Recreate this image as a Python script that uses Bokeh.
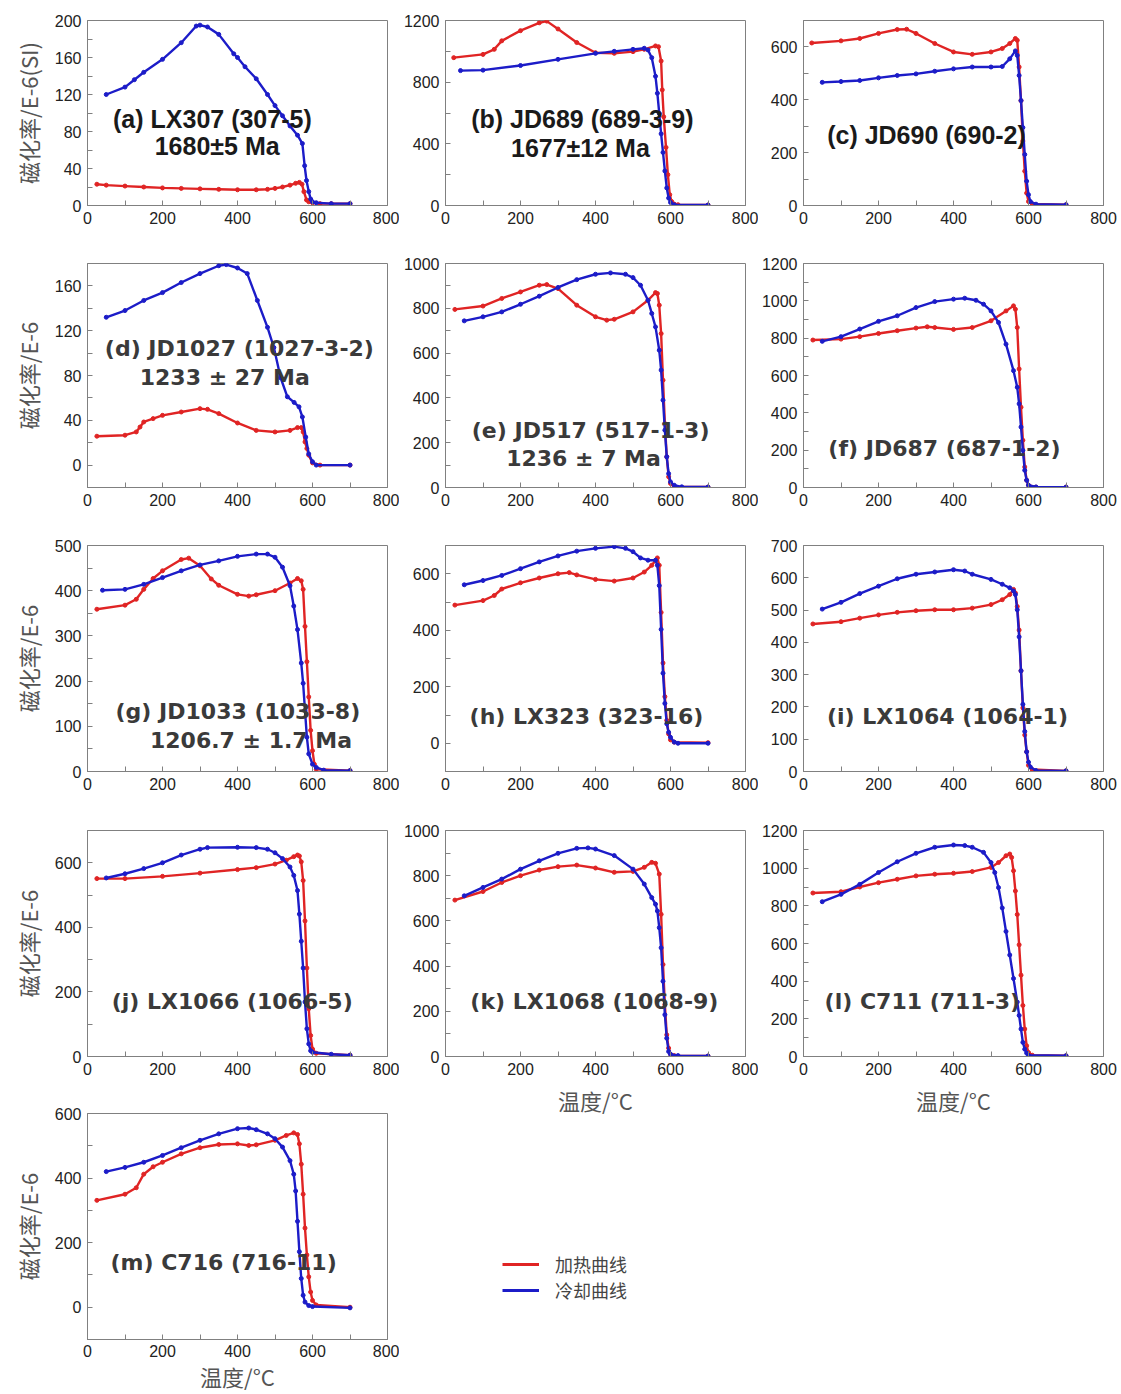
from bokeh.plotting import figure
from bokeh.layouts import row, column
from bokeh.models import FixedTicker, Range1d, Label, Legend, LegendItem
from bokeh.embed import file_html
from bokeh.resources import INLINE

# ---------------- data (temperature in °C, susceptibility in 1E-6 SI) ----------------
a_heat_t = [25, 50, 100, 150, 200, 250, 300, 350, 400, 450, 480, 500, 520, 540, 555, 565, 572, 577, 584, 590, 600, 620, 650, 700]
a_heat_v = [23, 22, 21, 20, 19, 18.5, 18, 17.5, 17, 17, 17.5, 18.5, 20, 22, 24, 25, 23, 15, 6, 4, 3, 2, 2, 2]
a_cool_t = [50, 100, 125, 150, 200, 250, 290, 300, 320, 350, 390, 400, 420, 450, 480, 500, 520, 540, 560, 573, 579, 584, 590, 595, 600, 610, 650, 700]
a_cool_v = [120, 128, 136, 144, 158, 176, 194, 195, 193, 185, 164, 160, 150, 137, 120, 108, 97, 86, 76, 67, 43, 27, 15, 7, 4, 3, 2, 2]

b_heat_t = [22, 100, 130, 150, 200, 250, 270, 300, 350, 400, 450, 500, 530, 560, 568, 575, 578, 582, 588, 593, 598, 603, 610, 620, 700]
b_heat_v = [959, 980, 1013, 1068, 1134, 1185, 1196, 1145, 1057, 991, 987, 998, 1013, 1035, 1030, 937, 750, 575, 377, 200, 70, 26, 9, 5, 3]
b_cool_t = [40, 100, 200, 300, 400, 450, 500, 530, 540, 550, 560, 565, 570, 575, 580, 585, 590, 595, 600, 610, 700]
b_cool_v = [875, 878, 908, 948, 987, 1000, 1013, 1020, 1009, 959, 838, 728, 597, 465, 344, 224, 114, 48, 20, 5, 3]

c_heat_t = [22, 100, 150, 200, 250, 275, 300, 350, 400, 450, 500, 530, 550, 565, 570, 575, 580, 585, 590, 595, 600, 610, 700]
c_heat_v = [615, 623, 632, 651, 666, 667, 651, 613, 581, 572, 581, 594, 613, 632, 625, 524, 397, 244, 130, 47, 15, 6, 3]
c_cool_t = [50, 100, 150, 200, 250, 300, 350, 400, 450, 500, 530, 550, 565, 570, 575, 580, 585, 590, 595, 600, 605, 620, 700]
c_cool_v = [466, 469, 473, 483, 492, 498, 508, 517, 524, 524, 526, 555, 585, 568, 492, 397, 295, 193, 92, 41, 15, 5, 3]

d_heat_t = [25, 100, 130, 140, 150, 175, 200, 250, 300, 320, 350, 400, 450, 500, 540, 560, 570, 575, 580, 585, 590, 600, 620, 700]
d_heat_v = [25.8, 26.7, 29.6, 34, 38.5, 41.5, 44.4, 47.4, 50.4, 49.8, 46, 37.6, 31, 29.6, 31, 33.5, 33.5, 29.6, 20.7, 14.8, 8.9, 2, 0, 0]
d_cool_t = [50, 100, 150, 200, 250, 300, 350, 370, 400, 426, 453, 480, 497, 515, 533, 551, 564, 573, 582, 590, 600, 610, 700]
d_cool_v = [132, 138, 147, 154, 163, 171, 178, 179, 176, 171, 147, 123, 105, 78, 61, 56, 52, 43, 25, 10, 3, 0, 0]

e_heat_t = [25, 100, 150, 200, 250, 270, 300, 350, 400, 430, 450, 500, 540, 560, 565, 570, 575, 580, 585, 590, 595, 600, 610, 700]
e_heat_v = [795, 810, 844, 873, 903, 906, 888, 814, 762, 747, 751, 784, 836, 870, 866, 814, 687, 479, 286, 137, 48, 18, 3, 2]
e_cool_t = [50, 100, 150, 200, 250, 300, 350, 400, 440, 480, 500, 520, 540, 550, 560, 570, 575, 580, 585, 590, 595, 600, 610, 630, 700]
e_cool_v = [744, 762, 784, 818, 854, 893, 928, 952, 958, 952, 937, 903, 836, 777, 717, 613, 524, 390, 256, 137, 62, 25, 10, 3, 2]

f_heat_t = [25, 100, 150, 200, 250, 300, 330, 350, 400, 450, 500, 540, 560, 565, 570, 575, 580, 585, 590, 595, 600, 620, 700]
f_heat_v = [790, 795, 808, 825, 840, 854, 861, 857, 847, 857, 893, 946, 973, 955, 857, 635, 430, 253, 110, 39, 12, 2, 2]
f_cool_t = [50, 100, 150, 200, 250, 300, 350, 400, 430, 460, 480, 500, 520, 540, 560, 570, 575, 580, 585, 590, 595, 600, 620, 700]
f_cool_v = [783, 808, 849, 890, 920, 964, 996, 1009, 1014, 1003, 982, 946, 884, 768, 626, 537, 448, 324, 199, 92, 39, 12, 3, 2]

g_heat_t = [25, 100, 130, 150, 175, 200, 250, 270, 300, 330, 350, 400, 430, 450, 500, 540, 560, 570, 575, 580, 585, 590, 595, 600, 605, 610, 700]
g_heat_v = [359, 368, 381, 403, 427, 444, 469, 472, 455, 426, 412, 392, 388, 391, 400, 417, 427, 422, 403, 321, 243, 165, 91, 46, 16, 5, 2]
g_cool_t = [40, 100, 150, 200, 250, 300, 350, 400, 450, 480, 500, 520, 540, 550, 560, 570, 575, 580, 585, 590, 600, 610, 630, 700]
g_cool_v = [401, 403, 414, 429, 444, 457, 466, 476, 481, 481, 474, 452, 411, 366, 314, 240, 195, 135, 76, 39, 16, 9, 3, 2]

h_heat_t = [25, 100, 130, 150, 200, 250, 300, 330, 350, 400, 450, 500, 530, 550, 565, 570, 575, 580, 585, 590, 595, 600, 610, 700]
h_heat_v = [489, 505, 523, 546, 568, 585, 600, 604, 596, 580, 574, 585, 606, 630, 656, 630, 463, 284, 165, 81, 33, 12, 4, 2]
h_cool_t = [50, 100, 150, 200, 250, 300, 350, 400, 450, 480, 500, 520, 540, 560, 565, 570, 575, 580, 585, 590, 595, 600, 610, 620, 700]
h_cool_v = [561, 576, 594, 618, 642, 663, 680, 690, 696, 690, 678, 656, 648, 648, 630, 558, 403, 248, 141, 69, 39, 21, 4, 0, 0]

i_heat_t = [25, 100, 150, 200, 250, 300, 350, 400, 450, 500, 530, 550, 560, 565, 570, 575, 580, 585, 590, 595, 600, 610, 700]
i_heat_v = [457, 464, 475, 485, 493, 498, 501, 501, 506, 517, 532, 548, 564, 553, 511, 438, 312, 197, 113, 61, 19, 6, 2]
i_cool_t = [50, 100, 150, 200, 250, 300, 350, 400, 430, 450, 500, 530, 550, 560, 565, 570, 575, 580, 585, 590, 595, 600, 605, 620, 700]
i_cool_v = [503, 524, 551, 574, 597, 611, 618, 625, 621, 611, 595, 580, 569, 559, 548, 501, 417, 312, 208, 124, 61, 29, 14, 3, 2]

j_heat_t = [25, 100, 200, 300, 400, 450, 500, 530, 550, 560, 565, 570, 575, 580, 585, 590, 595, 600, 610, 700]
j_heat_v = [551, 551, 558, 568, 579, 585, 596, 608, 619, 624, 621, 603, 545, 420, 274, 148, 65, 23, 10, 4]
j_cool_t = [50, 100, 150, 200, 250, 300, 320, 400, 450, 480, 500, 520, 540, 550, 560, 565, 570, 575, 580, 585, 590, 595, 600, 650, 700]
j_cool_v = [553, 566, 582, 600, 624, 642, 647, 648, 647, 642, 631, 613, 587, 561, 514, 441, 357, 274, 169, 86, 39, 18, 13, 7, 4]

k_heat_t = [25, 100, 150, 200, 250, 300, 350, 400, 450, 500, 530, 550, 560, 570, 575, 580, 585, 590, 595, 600, 610, 700]
k_heat_v = [692, 730, 770, 800, 825, 840, 847, 834, 815, 819, 837, 859, 855, 807, 629, 407, 230, 96, 37, 10, 4, 2]
k_cool_t = [50, 100, 150, 200, 250, 300, 350, 380, 400, 450, 500, 530, 550, 560, 565, 570, 575, 580, 585, 590, 595, 600, 620, 700]
k_cool_v = [711, 748, 785, 829, 866, 899, 921, 923, 918, 889, 829, 763, 703, 674, 644, 570, 481, 333, 185, 81, 22, 10, 4, 2]

l_heat_t = [25, 100, 150, 200, 250, 300, 350, 400, 450, 500, 520, 540, 550, 555, 560, 565, 570, 575, 580, 585, 590, 595, 600, 610, 700]
l_heat_v = [868, 875, 900, 923, 941, 959, 968, 973, 982, 1004, 1030, 1066, 1075, 1057, 986, 879, 754, 593, 432, 271, 146, 57, 21, 7, 4]
l_cool_t = [50, 100, 150, 200, 250, 300, 350, 400, 430, 450, 480, 500, 510, 520, 530, 540, 550, 560, 570, 575, 580, 585, 590, 595, 600, 700]
l_cool_v = [822, 861, 914, 977, 1034, 1079, 1111, 1123, 1120, 1111, 1084, 1030, 977, 897, 789, 664, 539, 414, 289, 218, 146, 75, 39, 18, 7, 4]

m_heat_t = [25, 100, 130, 150, 175, 200, 250, 300, 350, 400, 430, 450, 500, 530, 550, 560, 565, 570, 575, 580, 585, 590, 595, 600, 610, 700]
m_heat_v = [331, 350, 370, 412, 435, 449, 475, 494, 504, 506, 501, 503, 517, 532, 540, 535, 506, 443, 350, 245, 162, 94, 47, 21, 7, 0]
m_cool_t = [50, 100, 150, 200, 250, 300, 350, 400, 430, 450, 480, 500, 520, 540, 550, 555, 560, 565, 570, 575, 580, 590, 600, 700]
m_cool_v = [420, 433, 449, 470, 494, 517, 537, 553, 555, 550, 537, 522, 496, 454, 412, 360, 266, 172, 89, 37, 16, 5, 2, -2]

x_ticks = [0, 200, 400, 600, 800]
x_minor = [100, 300, 500, 700]
legend_labels = ["加热曲线", "冷却曲线"]
y_title_a = "磁化率/E-6(SI)"
y_title = "磁化率/E-6"
x_title = "温度/°C"

RED = "#e02424"
BLUE = "#1c1cc8"
FRAME = "#808080"


def panel(ht, hv, ct, cv, yr, yt, ym, notes, box, ylabel=None, xlabel=None, wide=False, tight=False):
    left, right, top, bottom, fh = box
    p = figure(width=left + 300 + right, height=top + fh + bottom,
               x_range=Range1d(0, 800), y_range=Range1d(*yr),
               output_backend="svg", toolbar_location=None,
               min_border_left=left, min_border_right=right,
               min_border_top=top, min_border_bottom=bottom)
    p.xgrid.visible = False
    p.ygrid.visible = False
    p.outline_line_color = FRAME
    p.outline_line_width = 1
    p.background_fill_color = "white"
    p.border_fill_color = "white"
    p.xaxis.ticker = FixedTicker(ticks=x_ticks, minor_ticks=x_minor)
    p.yaxis.ticker = FixedTicker(ticks=yt, minor_ticks=ym)
    for ax in (p.xaxis[0], p.yaxis[0]):
        ax.axis_line_color = FRAME
        ax.major_tick_line_color = FRAME
        ax.minor_tick_line_color = FRAME
        ax.major_tick_in = 5
        ax.major_tick_out = 0
        ax.minor_tick_in = 5
        ax.minor_tick_out = 0
        ax.major_label_text_font = "Liberation Sans"
        ax.major_label_text_font_size = "16px"
        ax.major_label_text_color = "#222222"
        ax.major_label_standoff = 6
        ax.axis_label_text_font = "Noto Sans CJK SC"
        ax.axis_label_text_font_style = "normal"
        ax.axis_label_text_color = "#555555"
    if ylabel:
        p.yaxis.axis_label = ylabel
        p.yaxis.axis_label_text_font_size = "22px"
        p.yaxis.axis_label_standoff = 8
    if xlabel:
        p.xaxis.axis_label = xlabel
        p.xaxis.axis_label_text_font_size = "22px"
        if tight:
            p.xaxis.axis_label_standoff = 0
            p.xaxis.major_label_standoff = 5
        else:
            p.xaxis.axis_label_standoff = 6
    p.line(ht, hv, line_color=RED, line_width=2.4)
    p.scatter(ht, hv, size=4, color=RED)
    p.line(ct, cv, line_color=BLUE, line_width=2.4)
    p.scatter(ct, cv, size=4, color=BLUE)
    if wide:
        font, size, color = "DejaVu Sans", "22px", "#3a3a3a"
    else:
        font, size, color = "Liberation Sans", "25px", "#1a1a1a"
    for (x, y, t) in notes:
        p.add_layout(Label(x=x, y=y, text=t, text_font=font,
                           text_font_style="bold", text_font_size=size,
                           text_color=color, text_align="center",
                           text_baseline="middle"))
    return p


# borders: left, right, top, bottom, frame height
C1 = (87, 12)
C2 = (46, 13)
C3 = (45, 18)

pa = panel(a_heat_t, a_heat_v, a_cool_t, a_cool_v, (0, 200), [0, 40, 80, 120, 160, 200], [20, 60, 100, 140, 180],
           [(333, 94, "(a) LX307 (307-5)"), (355, 64, "1680±5  Ma")], C1 + (20, 40, 185), ylabel=y_title_a)
pb = panel(b_heat_t, b_heat_v, b_cool_t, b_cool_v, (0, 1200), [0, 400, 800, 1200], [200, 600, 1000],
           [(365, 564, "(b) JD689 (689-3-9)"), (369, 376, "1677±12  Ma")], C2 + (20, 40, 185))
pc = panel(c_heat_t, c_heat_v, c_cool_t, c_cool_v, (0, 700), [0, 200, 400, 600], [100, 300, 500, 700],
           [(328, 266, "(c) JD690 (690-2)")], C3 + (20, 40, 185))

pd_ = panel(d_heat_t, d_heat_v, d_cool_t, d_cool_v, (-20, 180), [0, 40, 80, 120, 160], [-20, 20, 60, 100, 140, 180],
            [(405, 104, "(d) JD1027 (1027-3-2)"), (366, 78, "1233 ± 27 Ma")], C1 + (18, 38, 224), ylabel=y_title, wide=True)
pe = panel(e_heat_t, e_heat_v, e_cool_t, e_cool_v, (0, 1000), [0, 200, 400, 600, 800, 1000], [100, 300, 500, 700, 900],
           [(387, 254, "(e) JD517 (517-1-3)"), (368, 129, "1236 ± 7 Ma")], C2 + (18, 38, 224), wide=True)
pf = panel(f_heat_t, f_heat_v, f_cool_t, f_cool_v, (0, 1200), [0, 200, 400, 600, 800, 1000, 1200], [100, 300, 500, 700, 900, 1100],
           [(376, 209, "(f) JD687 (687-1-2)")], C3 + (18, 38, 224), wide=True)

pg = panel(g_heat_t, g_heat_v, g_cool_t, g_cool_v, (0, 500), [0, 100, 200, 300, 400, 500], [50, 150, 250, 350, 450],
           [(401, 133, "(g) JD1033 (1033-8)"), (436, 69, "1206.7 ± 1.7 Ma")], C1 + (20, 39, 226), ylabel=y_title, wide=True)
ph = panel(h_heat_t, h_heat_v, h_cool_t, h_cool_v, (-100, 700), [0, 200, 400, 600], [-100, 100, 300, 500, 700],
           [(376, 95, "(h) LX323 (323-16)")], C2 + (20, 39, 226), wide=True)
pi = panel(i_heat_t, i_heat_v, i_cool_t, i_cool_v, (0, 700), [0, 100, 200, 300, 400, 500, 600, 700], [],
           [(384, 170, "(i) LX1064 (1064-1)")], C3 + (20, 39, 226), wide=True)

pj = panel(j_heat_t, j_heat_v, j_cool_t, j_cool_v, (0, 700), [0, 200, 400, 600], [100, 300, 500, 700],
           [(386, 170, "(j) LX1066 (1066-5)")], C1 + (20, 39, 226), ylabel=y_title, wide=True)
pk = panel(k_heat_t, k_heat_v, k_cool_t, k_cool_v, (0, 1000), [0, 200, 400, 600, 800, 1000], [100, 300, 500, 700, 900],
           [(397, 243, "(k) LX1068 (1068-9)")], C2 + (20, 74, 226), xlabel=x_title, wide=True)
pl = panel(l_heat_t, l_heat_v, l_cool_t, l_cool_v, (0, 1200), [0, 200, 400, 600, 800, 1000, 1200], [100, 300, 500, 700, 900, 1100],
           [(317, 292, "(l) C711 (711-3)")], C3 + (20, 74, 226), xlabel=x_title, wide=True)

pm = panel(m_heat_t, m_heat_v, m_cool_t, m_cool_v, (-100, 600), [0, 200, 400, 600], [-100, 100, 300, 500],
           [(363, 138, "(m) C716 (716-11)")], C1 + (18, 55, 226), ylabel=y_title, xlabel=x_title, wide=True, tight=True)

# legend panel: the sample renderers lie outside this panel's ranges, only their legend glyphs show
pleg = figure(width=359, height=264, x_range=Range1d(-2000, -1000), y_range=Range1d(-2000, -1000),
              output_backend="svg", toolbar_location=None, min_border=0,
              x_axis_location=None, y_axis_location=None, outline_line_color=None)
pleg.xgrid.visible = False
pleg.ygrid.visible = False
r_heat = pleg.line(m_heat_t, m_heat_v, line_color=RED, line_width=3)
r_cool = pleg.line(m_cool_t, m_cool_v, line_color=BLUE, line_width=3)
leg = Legend(items=[LegendItem(label=legend_labels[0], renderers=[r_heat]),
                    LegendItem(label=legend_labels[1], renderers=[r_cool])],
             location=(57, 91), glyph_width=37, glyph_height=20, label_standoff=16,
             spacing=0, padding=0, margin=0, border_line_color=None,
             background_fill_alpha=0, label_text_font="Noto Sans CJK SC",
             label_text_font_size="18px", label_text_color="#444444")
pleg.add_layout(leg)

layout = row(column(pa, pd_, pg, pj, pm),
             column(pb, pe, ph, pk, pleg),
             column(pc, pf, pi, pl))

open("out.html", "w").write(file_html(layout, INLINE))
